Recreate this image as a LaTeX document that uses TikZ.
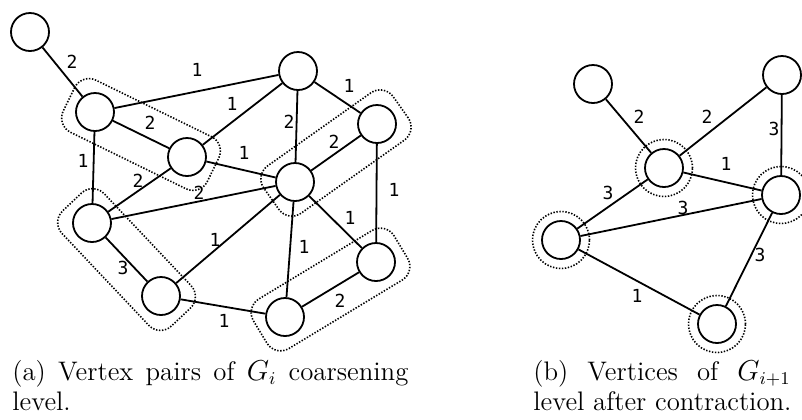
\documentclass[tikz,border=0pt]{standalone}
\usepackage{fontspec}
\newfontfamily\wtfont{DejaVu Sans Mono}
\usetikzlibrary{calc}

\begin{document}
\begin{tikzpicture}[x=0.5pt, y=-0.5pt,
    vtx/.style={draw, circle, line width=0.9pt, minimum size=19pt, inner sep=0pt},
    ring/.style={draw, circle, line width=0.8pt, dash pattern=on 0.7pt off 0.8pt, minimum size=28.5pt, inner sep=0pt},
    edge/.style={line width=0.9pt},
    pairbox/.style={line width=0.8pt, dash pattern=on 0.7pt off 0.8pt, rounded corners=8pt},
    wt/.style={font=\wtfont\fontsize{9}{10}\selectfont, inner sep=0pt},
    capt/.style={inner sep=0pt, text width=198pt, align=justify,
      font=\fontsize{13.4}{15}\selectfont}]
    \useasboundingbox (0,0) rectangle (802,419);
    \clip (0,0) rectangle (802,419);

    \node[vtx] (a1)  at (30,32)   {};
    \node[vtx] (a2)  at (95,112)  {};
    \node[vtx] (a3)  at (187,157) {};
    \node[vtx] (a4)  at (298,71)  {};
    \node[vtx] (a5)  at (377,124) {};
    \node[vtx] (a6)  at (295,182) {};
    \node[vtx] (a7)  at (92,223)  {};
    \node[vtx] (a8)  at (161,296) {};
    \node[vtx] (a9)  at (376,262) {};
    \node[vtx] (a10) at (285,317) {};

    \foreach \p/\q in {a2/a3, a5/a6, a7/a8, a10/a9}
      \draw[pairbox] ($(\p)!20.5pt!135:(\q)$) -- ($(\p)!20.5pt!-135:(\q)$)
        -- ($(\q)!20.5pt!135:(\p)$) -- ($(\q)!20.5pt!-135:(\p)$) -- cycle;

    \draw[edge] (a1) -- (a2);
    \draw[edge] (a2) -- (a4);
    \draw[edge] (a2) -- (a3);
    \draw[edge] (a2) -- (a7);
    \draw[edge] (a3) -- (a4);
    \draw[edge] (a3) -- (a6);
    \draw[edge] (a3) -- (a7);
    \draw[edge] (a4) -- (a6);
    \draw[edge] (a4) -- (a5);
    \draw[edge] (a5) -- (a6);
    \draw[edge] (a5) -- (a9);
    \draw[edge] (a6) -- (a7);
    \draw[edge] (a6) -- (a8);
    \draw[edge] (a6) -- (a10);
    \draw[edge] (a6) -- (a9);
    \draw[edge] (a7) -- (a8);
    \draw[edge] (a8) -- (a10);
    \draw[edge] (a10) -- (a9);

    \node[wt] (wa1)  at (72,62)   {2};
    \node[wt] (wa2)  at (197,70)  {1};
    \node[wt] (wa3)  at (150,123) {2};
    \node[wt] (wa4)  at (232,104) {1};
    \node[wt] (wa5)  at (289,122) {2};
    \node[wt] (wa6)  at (349,86)  {1};
    \node[wt] (wa7)  at (334,142) {2};
    \node[wt] (wa8)  at (244,153) {1};
    \node[wt] (wa9)  at (83,161)  {1};
    \node[wt] (wa10) at (138,181) {2};
    \node[wt] (wa11) at (199,193) {2};
    \node[wt] (wa12) at (394,190) {1};
    \node[wt] (wa13) at (350,218) {1};
    \node[wt] (wa14) at (304,247) {1};
    \node[wt] (wa15) at (215,240) {1};
    \node[wt] (wa16) at (123,268) {3};
    \node[wt] (wa17) at (224,321) {1};
    \node[wt] (wa18) at (340,301) {2};

    \node[vtx] (b1) at (593,84)  {};
    \node[vtx] (b2) at (782,75)  {};
    \node[vtx] (b3) at (664,168) {};
    \node[vtx] (b4) at (781,195) {};
    \node[vtx] (b5) at (561,240) {};
    \node[vtx] (b6) at (717,324) {};
    \node[ring] (r3) at (b3) {};
    \node[ring] (r4) at (b4) {};
    \node[ring] (r5) at (b5) {};
    \node[ring] (r6) at (b6) {};

    \draw[edge] (b1) -- (b3);
    \draw[edge] (b2) -- (b3);
    \draw[edge] (b2) -- (b4);
    \draw[edge] (b3) -- (b4);
    \draw[edge] (b3) -- (b5);
    \draw[edge] (b5) -- (b4);
    \draw[edge] (b5) -- (b6);
    \draw[edge] (b4) -- (b6);

    \node[wt] (wb1) at (639,117) {2};
    \node[wt] (wb2) at (707,117) {2};
    \node[wt] (wb3) at (774,129) {3};
    \node[wt] (wb4) at (726,164) {1};
    \node[wt] (wb5) at (608,193) {3};
    \node[wt] (wb6) at (683,208) {3};
    \node[wt] (wb7) at (760,255) {3};
    \node[wt] (wb8) at (637,296) {1};

    \node[capt, anchor=base west] (capa) at (12,380)
      {(a) Vertex pairs of $G_i$ coarsening level.};
    \node[capt, anchor=base west] (capb) at (533,380)
      {(b) Vertices of $G_{i+1}$ coarsening level after contraction.};
  \end{tikzpicture}
\end{document}
